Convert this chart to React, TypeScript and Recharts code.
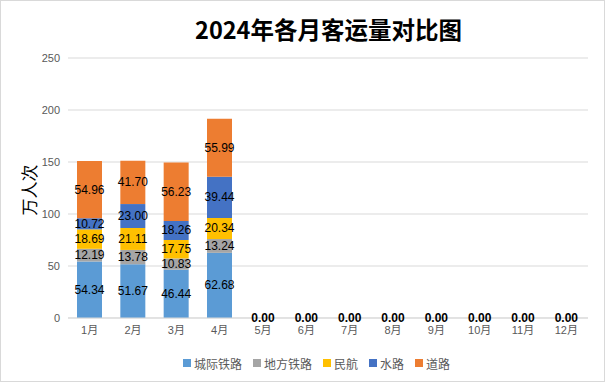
import React from 'react';
import { ComposedChart, Bar, Line, XAxis, YAxis, CartesianGrid, Legend, LabelList } from 'recharts';

const months = ['1月', '2月', '3月', '4月', '5月', '6月', '7月', '8月', '9月', '10月', '11月', '12月'];
const intercityRail = [54.34, 51.67, 46.44, 62.68, 0, 0, 0, 0, 0, 0, 0, 0];
const localRail = [12.19, 13.78, 10.83, 13.24, 0, 0, 0, 0, 0, 0, 0, 0];
const aviation = [18.69, 21.11, 17.75, 20.34, 0, 0, 0, 0, 0, 0, 0, 0];
const waterway = [10.72, 23.0, 18.26, 39.44, 0, 0, 0, 0, 0, 0, 0, 0];
const road = [54.96, 41.7, 56.23, 55.99, 0, 0, 0, 0, 0, 0, 0, 0];
const yTicks = [0, 50, 100, 150, 200, 250];

const series = [
  { key: 'intercityRail', name: '城际铁路', color: '#5B9BD5', values: intercityRail },
  { key: 'localRail', name: '地方铁路', color: '#A5A5A5', values: localRail },
  { key: 'aviation', name: '民航', color: '#FFC000', values: aviation },
  { key: 'waterway', name: '水路', color: '#4472C4', values: waterway },
  { key: 'road', name: '道路', color: '#ED7D31', values: road },
];

const data = months.map((m, i) => {
  const row: any = { month: m };
  let total = 0;
  series.forEach((s) => {
    row[s.key] = s.values[i];
    total += s.values[i];
  });
  row.total = total;
  return row;
});

const FONT = '"Liberation Sans", "Noto Sans CJK SC", sans-serif';

const renderLabel = (props: any) => {
  const { x, y, width, height, value } = props;
  if (value === undefined || value === null || Number(value) === 0) return null;
  const cx = Number(x) + Number(width) / 2;
  const cy = Number(y) + Number(height) / 2;
  return (
    <text x={cx} y={cy} textAnchor="middle" dominantBaseline="central" fill="#000" fontSize={12} fontFamily={FONT}>
      {Number(value).toFixed(2)}
    </text>
  );
};

const renderZeroLabel = (props: any) => {
  const { x, y, value } = props;
  if (value === undefined || value === null || Number(value) !== 0) return null;
  return (
    <text
      x={Number(x)}
      y={Number(y)}
      textAnchor="middle"
      dominantBaseline="central"
      fill="#000"
      fontSize={12}
      fontWeight="bold"
      fontFamily={FONT}
    >
      {Number(value).toFixed(2)}
    </text>
  );
};

const renderLegend = () => (
  <div
    style={{
      display: 'flex',
      justifyContent: 'flex-start',
      alignItems: 'center',
      gap: 11,
      fontSize: 12,
      color: '#595959',
      fontFamily: FONT,
      paddingLeft: 183,
      height: 30,
      boxSizing: 'border-box',
    }}
  >
    {series.map((s) => (
      <div key={s.key} style={{ display: 'flex', alignItems: 'center' }}>
        <span style={{ display: 'inline-block', width: 8, height: 8, background: s.color, marginRight: 3 }} />
        <span>{s.name}</span>
      </div>
    ))}
  </div>
);

export default function App() {
  return (
    <div
      style={{
        position: 'absolute',
        left: 0,
        top: 0,
        width: 605,
        height: 382,
        border: '1px solid #D9D9D9',
        boxSizing: 'border-box',
        background: '#fff',
        fontFamily: FONT,
      }}
    >
      <div
        style={{
          position: 'absolute',
          left: 25,
          top: 13,
          width: 605,
          textAlign: 'center',
          fontSize: 23.5,
          fontWeight: 'bold',
          color: '#000',
          fontFamily: '"Noto Sans CJK SC", sans-serif',
          lineHeight: '30px',
        }}
      >
        2024年各月客运量对比图
      </div>
      <div
        style={{
          position: 'absolute',
          left: 27,
          top: 189,
          transform: 'translate(-50%, -50%) rotate(-90deg)',
          fontSize: 17,
          color: '#000',
          whiteSpace: 'nowrap',
          fontFamily: '"Noto Sans CJK SC", sans-serif',
        }}
      >
        万人次
      </div>
      <div style={{ position: 'absolute', left: -1, top: -1 }}>
        <ComposedChart
          width={605}
          height={382}
          data={data}
          margin={{ top: 58, right: 17, left: 0, bottom: 4 }}
          style={{ fontFamily: FONT }}
        >
          <CartesianGrid vertical={false} stroke="#D9D9D9" />
          <XAxis
            dataKey="month"
            tick={{ fill: '#595959', fontSize: 11 }}
            tickLine={false}
            axisLine={{ stroke: '#D9D9D9' }}
            height={30}
          />
          <YAxis
            width={68}
            domain={[0, 250]}
            ticks={yTicks}
            tick={{ fill: '#595959', fontSize: 11 }}
            tickLine={false}
            axisLine={false}
          />
          <Legend verticalAlign="bottom" height={30} content={renderLegend} />
          {series.map((s) => (
            <Bar
              key={s.key}
              dataKey={s.key}
              name={s.name}
              stackId="a"
              fill={s.color}
              barSize={25}
              isAnimationActive={false}
            >
              <LabelList dataKey={s.key} content={renderLabel} />
            </Bar>
          ))}
          <Line
            dataKey="total"
            stroke="none"
            dot={false}
            activeDot={false}
            legendType="none"
            isAnimationActive={false}
          >
            <LabelList dataKey="total" content={renderZeroLabel} />
          </Line>
        </ComposedChart>
      </div>
    </div>
  );
}
